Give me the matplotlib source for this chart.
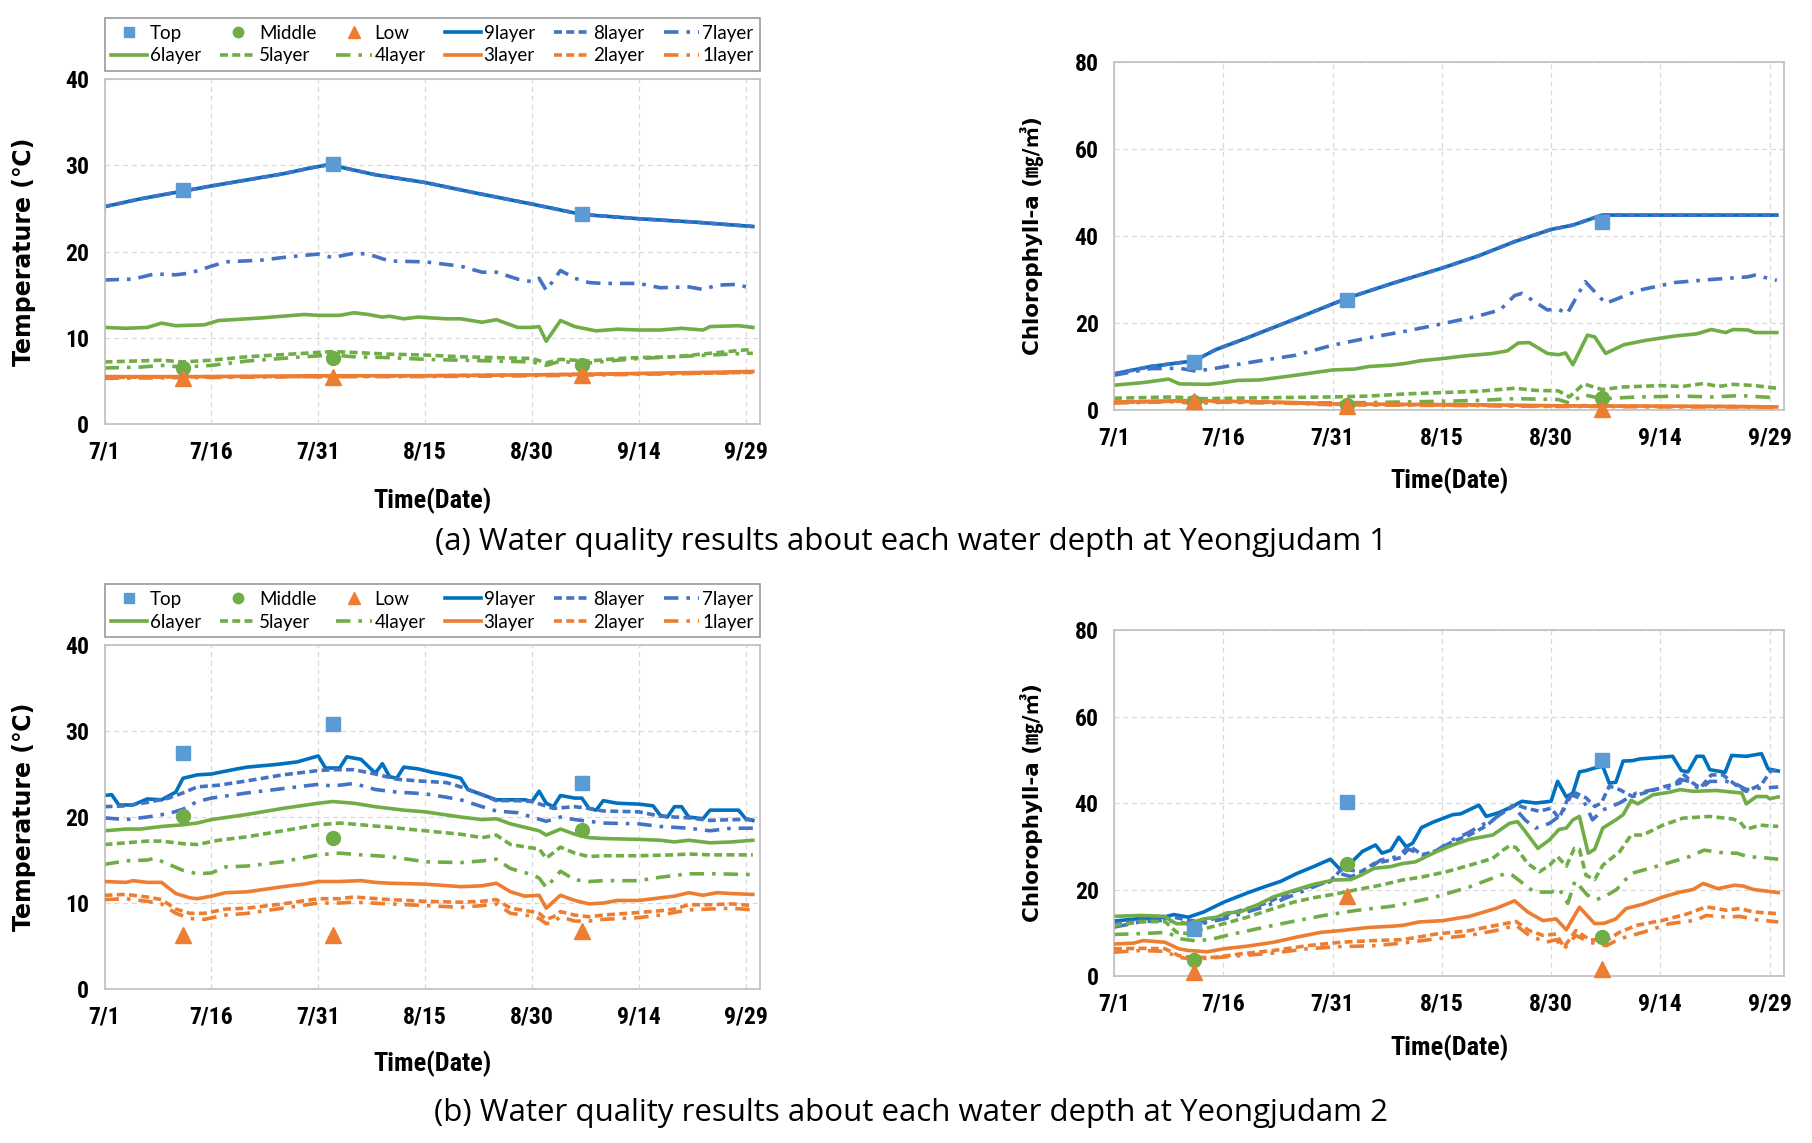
import matplotlib
matplotlib.use("Agg")
import matplotlib.pyplot as plt
from matplotlib import font_manager as fm
from matplotlib.lines import Line2D

# ---------------- data ----------------
TICK_DAYS = [0, 15, 30, 45, 60, 75, 90]
TICK_LABELS = ['7/1', '7/16', '7/31', '8/15', '8/30', '9/14', '9/29']
MARK_DAYS = [11, 32, 67]

# (a) Yeongjudam 1 - temperature
TA_9 = [(0,25.2),(5,26.1),(11,27.0),(15,27.6),(20,28.3),(25,29.0),(29,29.7),(31,30.0),(33,29.8),(38,28.9),(45,28.0),(52,26.8),(60,25.5),(67,24.3),(75,23.8),(83,23.4),(91,22.9)]
TA_8 = [(0,25.2),(5,26.1),(11,27.0),(15,27.6),(20,28.3),(25,29.0),(29,29.7),(31,30.0),(33,29.8),(38,28.9),(45,28.0),(52,26.8),(60,25.5),(67,24.3),(75,23.8),(83,23.4),(91,22.9)]
TA_7 = [(0,16.7),(4,16.8),(7,17.4),(10,17.3),(12,17.5),(15,18.3),(17,18.8),(22,19.0),(26,19.4),(30,19.7),(32,19.3),(35,19.8),(37,19.7),(40,18.9),(45,18.8),(50,18.3),(53,17.6),(55,17.6),(58,16.8),(60,16.5),(61,16.9),(62,15.5),(64,17.8),(66,16.9),(68,16.4),(70,16.3),(75,16.3),(78,15.8),(82,15.9),(84,15.6),(86,16.1),(89,16.2),(91,15.6)]
TA_6 = [(0,11.2),(3,11.1),(6,11.2),(8,11.7),(10,11.4),(14,11.5),(16,12.0),(22,12.3),(28,12.7),(30,12.6),(33,12.6),(35,12.9),(37,12.7),(39,12.4),(40,12.5),(42,12.2),(44,12.4),(48,12.2),(50,12.2),(53,11.8),(55,12.1),(58,11.2),(60,11.2),(61,11.3),(62,9.6),(64,12.0),(66,11.3),(69,10.8),(72,11.0),(75,10.9),(78,10.9),(81,11.1),(84,10.9),(85,11.3),(89,11.4),(91,11.2)]
TA_5 = [(0,7.2),(8,7.4),(11,7.2),(15,7.4),(20,7.8),(26,8.1),(32,8.4),(35,8.3),(40,8.1),(45,8.0),(50,7.8),(55,7.7),(60,7.6),(62,7.1),(64,7.5),(68,7.3),(72,7.6),(75,7.7),(80,7.8),(85,8.2),(90,8.6),(91,8.6)]
TA_4 = [(0,6.5),(5,6.6),(8,6.8),(11,6.6),(15,6.8),(20,7.3),(28,7.8),(32,8.0),(35,7.8),(40,7.7),(45,7.5),(50,7.4),(55,7.3),(60,7.2),(62,6.8),(64,7.3),(67,7.0),(72,7.4),(75,7.6),(80,7.8),(85,8.0),(90,8.2),(91,8.2)]
TA_3 = [(0,5.5),(15,5.5),(30,5.6),(45,5.6),(60,5.7),(70,5.8),(85,6.0),(91,6.1)]
TA_2 = [(0,5.4),(15,5.5),(30,5.5),(45,5.6),(60,5.7),(70,5.8),(85,5.9),(91,6.0)]
TA_1 = [(0,5.3),(15,5.4),(30,5.5),(45,5.5),(60,5.6),(70,5.7),(85,5.9),(91,6.0)]
TA_TOP = [27.1, 30.2, 24.4]
TA_MID = [6.5, 7.7, 6.9]
TA_LOW = [5.3, 5.4, 5.7]

# (a) Yeongjudam 1 - chlorophyll-a
CA_9 = [(0,8.3),(5,10.0),(11,11.3),(14,13.9),(18,16.4),(25,21.0),(32,25.7),(38,29.0),(45,32.6),(50,35.4),(55,38.7),(60,41.5),(63,42.5),(67,44.8),(91,44.8)]
CA_8 = [(0,8.3),(5,10.0),(11,11.3),(14,13.9),(18,16.4),(25,21.0),(32,25.7),(38,29.0),(45,32.6),(50,35.4),(55,38.7),(60,41.5),(63,42.5),(67,44.8),(91,44.8)]
CA_7 = [(0,8.0),(5,9.5),(9,9.6),(11,9.0),(13,9.3),(16,10.2),(20,11.3),(25,12.6),(30,14.9),(35,16.6),(40,18.1),(45,19.8),(50,21.6),(53,23.0),(55,26.3),(56,26.8),(59.5,23.0),(61,23.2),(62.2,22.1),(64.7,29.5),(67.5,24.5),(72,27.5),(77,29.3),(82,30.0),(87,30.6),(88,31.0),(89,30.6),(91,29.8)]
CA_6 = [(0,5.7),(4,6.3),(7.5,7.1),(9,6.0),(13,5.9),(15,6.3),(17,6.8),(20,6.9),(25,8.0),(30,9.2),(33,9.4),(35,10.0),(38,10.3),(40,10.7),(42,11.3),(45,11.8),(48,12.4),(52,13.0),(54,13.6),(55.5,15.4),(57,15.5),(59.5,13.0),(61,12.7),(62,13.1),(63,10.4),(65,17.2),(66,16.8),(67.5,13.0),(70,15.0),(73,16.0),(77,17.0),(80,17.5),(82,18.5),(84,17.8),(85,18.5),(87,18.4),(88,17.8),(91,17.8)]
CA_5 = [(0,2.7),(8,3.0),(12,2.6),(20,2.8),(30,3.0),(35,3.2),(40,3.7),(45,4.0),(50,4.3),(55,5.0),(58,4.5),(61,4.4),(62.5,3.0),(64.5,6.0),(67,4.7),(70,5.3),(75,5.6),(78,5.4),(81,6.1),(83,5.4),(85,5.9),(88,5.6),(91,5.0)]
CA_4 = [(0,1.8),(8,2.0),(11,1.5),(15,1.8),(25,1.6),(35,1.7),(45,2.0),(50,2.2),(55,2.6),(58,2.5),(61,2.4),(62.5,1.6),(64.5,3.5),(67,2.6),(72,3.0),(78,3.2),(82,3.0),(86,3.3),(91,2.8)]
CA_3 = [(0,1.8),(8,2.1),(11,2.2),(15,2.0),(20,1.9),(25,1.7),(30,1.4),(40,1.3),(50,1.2),(60,1.0),(65,0.9),(75,0.9),(85,0.8),(91,0.7)]
CA_2 = [(0,1.7),(8,2.0),(11,2.0),(15,1.9),(20,1.8),(25,1.6),(30,1.3),(40,1.2),(50,1.1),(60,0.9),(65,1.0),(75,0.8),(85,0.8),(91,0.7)]
CA_1 = [(0,1.6),(8,1.9),(11,1.9),(15,1.8),(20,1.7),(25,1.5),(30,1.2),(40,1.1),(50,1.0),(60,0.8),(65,0.8),(75,0.7),(85,0.7),(91,0.6)]
CA_TOP = [11.1, 25.3, 43.1]
CA_MID = [1.9, 1.1, 2.8]
CA_LOW = [2.0, 0.9, 0.3]

# (b) Yeongjudam 2 - temperature
TB_9 = [(0,22.5),(1,22.6),(2,21.4),(4,21.4),(6,22.1),(8,22.0),(10,22.9),(11,24.5),(13,24.9),(15,25.0),(18,25.5),(20,25.8),(24,26.1),(27,26.4),(30,27.1),(31,25.7),(33,25.7),(34,27.0),(36,26.7),(38,25.1),(39,26.2),(40,24.7),(41,24.5),(42,25.8),(44,25.6),(46,25.2),(48,24.9),(50,24.5),(51,23.2),(53,22.6),(55,22.0),(57,22.0),(59,22.0),(60,21.8),(61,23.0),(62,21.6),(63,21.2),(64,22.5),(66,22.2),(67,22.2),(68,21.0),(69,20.8),(70,21.9),(72,21.6),(75,21.5),(77,21.3),(78,20.2),(79,20.0),(80,21.2),(81,21.2),(82,20.0),(84,19.8),(85,20.8),(89,20.8),(90,19.8),(91,19.6)]
TB_8 = [(0,21.2),(3,21.3),(6,21.7),(9,22.2),(11,22.8),(13,23.5),(16,23.7),(20,24.2),(25,24.9),(30,25.4),(32,25.5),(35,25.5),(38,25.0),(41,24.4),(44,24.2),(48,24.0),(50,23.5),(53,22.6),(55,21.9),(58,21.9),(60,21.8),(63,21.0),(66,21.2),(68,21.0),(70,20.7),(75,20.6),(78,20.1),(82,19.9),(85,19.6),(88,19.7),(91,19.7)]
TB_7 = [(0,19.9),(3,19.7),(6,20.0),(9,20.4),(11,20.9),(13,21.8),(15,22.2),(20,22.8),(25,23.3),(30,23.8),(32,23.6),(35,23.9),(38,23.2),(41,22.9),(45,22.7),(48,22.3),(50,22.0),(53,21.2),(55,20.7),(58,20.5),(60,20.0),(62,19.5),(64,20.0),(66,19.7),(68,19.5),(70,19.3),(75,19.2),(78,18.9),(82,18.7),(85,18.4),(88,18.7),(91,18.7)]
TB_6 = [(0,18.4),(3,18.6),(5,18.6),(8,18.9),(11,19.1),(13,19.3),(15,19.7),(20,20.3),(25,21.0),(30,21.6),(32,21.8),(35,21.6),(38,21.2),(40,21.0),(42,20.8),(45,20.6),(50,20.0),(53,19.7),(55,19.8),(57,19.2),(59,18.8),(61,18.4),(62,17.9),(64,18.6),(66,18.0),(68,17.6),(70,17.5),(75,17.4),(78,17.3),(80,17.1),(82,17.3),(85,17.0),(88,17.1),(91,17.3)]
TB_5 = [(0,16.8),(3,17.0),(6,17.2),(8,17.2),(11,16.9),(13,16.8),(16,17.3),(20,17.7),(25,18.4),(30,19.1),(33,19.3),(36,19.1),(40,18.8),(45,18.4),(50,18.0),(53,17.6),(55,17.9),(57,16.8),(60,16.4),(61,16.3),(62,15.2),(64,16.5),(66,15.8),(68,15.4),(70,15.5),(75,15.5),(80,15.6),(82,15.7),(85,15.6),(91,15.6)]
TB_4 = [(0,14.5),(3,14.9),(6,15.0),(7,15.2),(9,14.5),(11,13.8),(13,13.4),(15,13.5),(17,14.2),(20,14.3),(25,14.8),(30,15.6),(33,15.8),(36,15.6),(40,15.4),(45,14.8),(50,14.7),(53,14.9),(55,15.1),(57,14.0),(60,13.3),(61,12.9),(62,11.8),(64,13.7),(66,12.7),(68,12.5),(70,12.6),(75,12.6),(78,13.0),(82,13.4),(86,13.4),(91,13.3)]
TB_3 = [(0,12.5),(3,12.4),(4,12.6),(6,12.4),(8,12.4),(10,11.1),(12,10.6),(13,10.5),(15,10.8),(17,11.2),(20,11.3),(25,11.9),(28,12.2),(30,12.5),(33,12.5),(36,12.6),(38,12.4),(40,12.3),(45,12.2),(50,11.9),(53,12.0),(55,12.3),(57,11.3),(59,10.8),(61,10.9),(62,9.4),(64,10.9),(66,10.3),(68,9.9),(70,10.0),(72,10.3),(75,10.3),(78,10.6),(80,10.8),(82,11.2),(84,10.9),(86,11.2),(88,11.1),(91,11.0)]
TB_2 = [(0,10.9),(3,11.0),(6,10.7),(8,10.4),(10,9.3),(12,8.8),(14,8.8),(17,9.3),(20,9.4),(25,9.9),(30,10.5),(33,10.5),(35,10.7),(40,10.4),(45,10.2),(50,10.1),(53,10.2),(55,10.4),(57,9.4),(60,9.0),(61,8.8),(62,8.1),(63,8.4),(64,9.0),(66,8.6),(68,8.4),(70,8.6),(75,8.9),(78,9.1),(80,9.3),(82,9.8),(85,9.8),(88,9.9),(91,9.7)]
TB_1 = [(0,10.4),(3,10.5),(6,10.2),(8,9.9),(10,8.8),(12,8.2),(14,8.1),(17,8.6),(20,8.8),(25,9.4),(30,10.0),(33,10.0),(35,10.1),(40,9.9),(45,9.7),(50,9.5),(53,9.7),(55,9.9),(57,8.8),(60,8.5),(61,8.2),(62,7.6),(63,7.8),(64,8.4),(66,7.9),(68,7.9),(70,8.1),(75,8.3),(78,8.6),(80,8.9),(82,9.2),(85,9.3),(88,9.4),(91,9.2)]
TB_TOP = [27.5, 30.8, 23.9]
TB_MID = [20.1, 17.6, 18.5]
TB_LOW = [6.3, 6.3, 6.7]

# (b) Yeongjudam 2 - chlorophyll-a
CB_9 = [(0,12.7),(3.6,13.3),(6.8,13.6),(8.2,14.2),(10.2,13.6),(12.3,14.8),(15.1,17.1),(18.3,19.2),(20.6,20.6),(22.9,21.9),(25.1,23.7),(27.4,25.3),(29.7,27.0),(30.9,24.9),(32,25.3),(34.1,28.8),(35.9,30.3),(36.8,28.4),(38,29.1),(39.1,32.1),(40.1,29.9),(41,30.7),(42.2,34.3),(43.7,35.5),(46.5,37.3),(47.6,37.5),(50.1,39.5),(51.1,36.9),(52.9,37.8),(54.7,39.2),(56,40.4),(57.9,40.0),(60,40.4),(60.9,45.0),(62.1,41.4),(63,42.3),(63.9,47.2),(64.8,47.5),(66,48.1),(67.1,48.5),(68,44.6),(68.9,44.8),(69.9,49.7),(71.2,49.8),(72.2,50.2),(74.5,50.5),(76.7,50.8),(77.9,47.5),(78.8,47.2),(80,50.8),(80.9,50.8),(81.8,47.7),(83.9,47.1),(84.8,51.0),(86.8,50.8),(88.9,51.4),(89.8,47.9),(91.2,47.4)]
CB_8 = [(0,12.1),(3.6,12.9),(6.8,13.2),(8.2,13.6),(10.2,12.9),(12.3,12.5),(15.1,14.0),(18.3,15.6),(20.6,16.7),(22.9,18.4),(25.1,19.8),(27.4,21.0),(29.7,21.8),(31.1,24.5),(32,24.6),(33.9,24.1),(35.7,26.0),(38,26.8),(39.4,27.4),(40.7,29.9),(42.3,28.0),(44.2,28.9),(46.5,31.1),(48.8,32.6),(51.1,34.7),(52.9,37.3),(55.2,39.6),(56.6,38.8),(58.4,38.1),(60,38.8),(61.1,36.5),(62.3,40.9),(63.4,42.3),(64.8,41.2),(66,39.2),(66.9,40.0),(68,43.9),(69.4,43.1),(71.2,41.5),(73.5,42.7),(75.8,43.9),(77.7,44.6),(78.3,46.5),(79.5,44.6),(80.5,43.5),(82,46.5),(83.6,46.5),(85.5,44.0),(86.8,42.7),(88.9,44.3),(90.2,47.5),(91.2,47.4)]
CB_7 = [(0,11.3),(3.6,12.5),(6.8,12.9),(10.2,12.1),(12.3,12.2),(15.1,13.2),(20.6,16.0),(27.4,20.6),(29.7,22.2),(31,23.7),(32.5,23.0),(34,23.7),(36.6,26.8),(38.9,27.6),(40.2,29.5),(42.3,28.0),(44.2,28.9),(46.5,31.5),(48.5,33.0),(50.6,35.0),(52,36.1),(54.7,39.4),(56.5,36.0),(57.9,34.2),(59.8,35.3),(61.4,37.3),(62.8,41.9),(64.4,40.8),(65.7,36.1),(67.1,38.4),(69.4,40.0),(71.7,42.3),(74.5,43.2),(76.3,43.5),(77.7,45.5),(79,45.0),(80.4,43.1),(81.8,45.0),(84.1,45.0),(85.5,44.3),(86.8,43.1),(89.1,43.5),(91.2,43.7)]
CB_6 = [(0,13.8),(3.6,14.0),(7,13.8),(7.7,12.9),(8.6,12.1),(10.2,12.1),(12.3,13.2),(14.1,13.6),(15.5,14.6),(17.3,14.8),(19.6,16.4),(21.9,18.3),(24.7,19.8),(27.4,21.2),(30.2,22.2),(32.5,22.3),(33.9,23.3),(35.7,24.9),(38,25.3),(39.6,26.0),(41.4,26.4),(44.2,28.7),(46.5,30.3),(48.8,31.6),(52,32.6),(54.3,35.3),(55.4,35.7),(56.3,33.8),(58.2,29.5),(59.8,31.5),(61.1,33.9),(62.1,34.2),(63,36.1),(63.9,36.9),(65.1,28.4),(66,29.3),(67.1,34.2),(68.9,36.1),(69.9,37.3),(71,40.6),(71.9,39.8),(74,41.9),(76.3,42.5),(77.7,43.1),(79.5,42.7),(82.7,42.9),(85,42.5),(86.2,42.3),(86.8,39.8),(88.2,41.5),(89.6,41.5),(90,41.0),(91.2,41.4)]
CB_5 = [(0,11.7),(3.6,12.5),(7,12.6),(8.6,10.1),(10.2,9.8),(12.3,10.9),(15.1,12.1),(18.3,13.6),(21.9,15.6),(24.7,17.1),(27.4,18.1),(30.2,18.9),(33.4,20.0),(36.6,21.0),(39.6,22.2),(42.3,22.9),(45.6,24.1),(48.8,25.6),(52,27.2),(53.4,29.1),(54.3,30.1),(55.2,29.7),(56.8,26.0),(58.4,24.1),(59.8,25.6),(60.9,27.6),(62.1,25.4),(63.2,29.5),(63.9,29.3),(64.8,23.3),(66,22.3),(67.1,25.6),(69.4,28.7),(71,32.6),(72.6,32.6),(75.4,34.9),(78.1,36.5),(81.8,36.9),(85,36.3),(85.9,35.7),(86.8,33.9),(88.7,34.9),(90,34.7),(91.2,34.6)]
CB_4 = [(0,9.6),(3.6,9.8),(7.3,10.1),(9.1,8.6),(10.9,8.2),(13.2,8.4),(15.5,9.4),(19.6,10.9),(24.2,12.5),(28.8,14.0),(33.4,15.2),(38,16.1),(39.6,16.6),(44.2,18.3),(48.8,20.6),(52.4,22.9),(53.8,23.7),(54.7,23.3),(57.7,19.4),(60,19.4),(61.1,20.2),(62.3,16.8),(63.3,22.0),(65,18.7),(66.3,17.7),(67.5,18.5),(69,20.0),(71,23.7),(75,25.6),(79,27.6),(81,29.1),(84,28.4),(85.5,28.4),(87,27.6),(89,27.4),(91.2,27.0)]
CB_3 = [(0,7.4),(2.7,7.6),(4,8.2),(7,7.8),(8.9,6.3),(10.2,5.9),(12.8,5.6),(15.1,6.3),(18.3,6.9),(21.9,7.8),(25.1,9.0),(28.4,10.1),(31.1,10.5),(34.8,11.2),(38,11.5),(39.6,11.7),(41.9,12.5),(45.1,12.8),(48.8,13.8),(52.4,15.6),(55,17.4),(56.8,14.8),(58.9,12.8),(60.7,13.2),(62.1,10.7),(63.9,15.9),(66,12.1),(67.3,12.2),(68.9,13.2),(70.3,15.6),(72.6,16.6),(75.4,18.3),(77.7,19.4),(79.5,20.0),(80.9,21.4),(82.9,20.2),(85.2,21.0),(86.4,20.8),(87.8,20.0),(91.2,19.3)]
CB_2 = [(0,6.3),(3.6,6.4),(7,6.3),(8.9,4.7),(10.9,4.3),(13.7,4.3),(17.3,5.1),(21.9,5.9),(26.5,7.0),(31.1,7.8),(35.7,8.2),(39.6,8.4),(44.2,9.7),(48.8,10.5),(52.4,11.7),(55.2,12.6),(57,10.5),(58.9,9.4),(60.7,9.7),(61.8,6.7),(63.4,10.5),(65.3,8.4),(67.6,8.2),(69.4,10.1),(71.7,11.7),(75.4,12.9),(78.6,14.3),(81.3,16.0),(84.1,15.2),(85.9,15.6),(87.8,14.8),(91.2,14.4)]
CB_1 = [(0,5.5),(3.6,5.9),(7,5.7),(8.9,4.3),(10.9,3.9),(13.7,4.2),(17.3,4.7),(21.9,5.3),(26.5,6.3),(31.1,6.8),(35.7,7.0),(39.6,7.6),(44.2,8.6),(48.8,9.4),(52.4,10.5),(55.2,11.7),(57,9.4),(59.3,7.8),(60.7,8.4),(61.8,6.3),(63.4,9.4),(65.3,7.8),(67.6,7.0),(69.4,8.6),(72.6,10.1),(76.3,12.1),(79.9,12.9),(81.3,14.0),(84.1,13.6),(85.9,13.8),(88.2,13.0),(91.2,12.5)]
CB_TOP = [10.9, 40.2, 50.0]
CB_MID = [3.6, 26.0, 9.0]
CB_LOW = [0.9, 18.6, 1.7]

LAYER_NAMES = ['9layer', '8layer', '7layer', '6layer', '5layer', '4layer', '3layer', '2layer', '1layer']
CAPTION_A = '(a) Water quality results about each water depth at Yeongjudam 1'
CAPTION_B = '(b) Water quality results about each water depth at Yeongjudam 2'

# ---------------- style ----------------
available = {f.name for f in fm.fontManager.ttflist}
def pick(*names):
    for n in names:
        if n in available:
            return n
    return 'DejaVu Sans'

NARROW = pick('Liberation Sans Narrow', 'Roboto Condensed', 'Liberation Sans')
LEGEND_FONT = pick('Lato', 'Open Sans', 'Liberation Sans')
CAP_FONT = pick('Open Sans', 'Noto Sans', 'Liberation Sans')

BLUE_D = '#0070C0'
BLUE = '#4472C4'
BLUE_M = '#5B9BD5'
GREEN = '#70AD47'
ORANGE = '#ED7D31'
DASH = (0, (2.2, 1.2))
DASHDOT = (0, (4.0, 2.2, 1.0, 2.2))
LAYER_STYLES = [(BLUE_D, '-'), (BLUE, DASH), (BLUE, DASHDOT),
                (GREEN, '-'), (GREEN, DASH), (GREEN, DASHDOT),
                (ORANGE, '-'), (ORANGE, DASH), (ORANGE, DASHDOT)]
MARK_STYLES = {'Top': ('s', BLUE_M, 10), 'Middle': ('o', GREEN, 10), 'Low': ('^', ORANGE, 11)}
LW = 2.6

fig = plt.figure(figsize=(18.12, 11.43), dpi=100)

def panel(rect, layers, top, mid, low, ymax, ystep, ylabel, ylab_family, ylab_size, xlab_y, legend):
    ax = fig.add_axes(rect)
    ax.set_axisbelow(True)
    for i, (series, (col, ls)) in enumerate(zip(layers, LAYER_STYLES)):
        d = [p[0] for p in series]
        v = [p[1] for p in series]
        ax.plot(d, v, color=col, linestyle=ls, lw=LW, zorder=2 + i * 0.1)
    for name, vals in (('Top', top), ('Middle', mid), ('Low', low)):
        m, c, s = MARK_STYLES[name]
        ax.plot(MARK_DAYS, vals, m, color=c, ms=s, ls='none', zorder=5, clip_on=False)
    ax.set_xlim(0, 92)
    ax.set_ylim(0, ymax)
    ax.set_yticks(list(range(0, ymax + 1, ystep)))
    ax.set_xticks(TICK_DAYS)
    ax.set_xticklabels(TICK_LABELS)
    ax.grid(True, color='#D9D9D9', linestyle=(0, (4, 3)), lw=0.9)
    for s in ax.spines.values():
        s.set_color('#BFBFBF')
        s.set_linewidth(1.2)
    ax.tick_params(length=0, pad=11)
    ax.tick_params(axis='x', pad=12)
    for lab in ax.get_xticklabels() + ax.get_yticklabels():
        lab.set_fontfamily(NARROW)
        lab.set_fontweight('bold')
        lab.set_fontsize(17)
    ax.set_ylabel(ylabel, family=ylab_family, fontweight='bold', fontsize=ylab_size)
    ax.yaxis.set_label_coords(-0.104, 0.5)
    ax.set_xlabel('Time(Date)', family=NARROW, fontweight='bold', fontsize=19)
    ax.xaxis.set_label_coords(0.5, xlab_y)
    if legend:
        order = ['Top', '6layer', 'Middle', '5layer', 'Low', '4layer',
                 '9layer', '3layer', '8layer', '2layer', '7layer', '1layer']
        handles = []
        for name in order:
            if name in MARK_STYLES:
                m, c, s = MARK_STYLES[name]
                handles.append(Line2D([], [], color=c, linestyle='none', marker=m,
                                      ms=7.5 if m != '^' else 8.5))
            else:
                c, ls = LAYER_STYLES[LAYER_NAMES.index(name)]
                handles.append(Line2D([], [], color=c, linestyle=ls, lw=LW))
        leg = ax.legend(handles, order, ncol=6, loc='lower left',
                        bbox_to_anchor=(0, 1.023, 1, 0.142), mode='expand',
                        borderaxespad=0, frameon=True, fancybox=False,
                        handlelength=1.9, handletextpad=0.15, columnspacing=0.5,
                        labelspacing=0.3, borderpad=0.35,
                        prop={'family': LEGEND_FONT, 'size': 13.5})
        leg.get_frame().set_edgecolor('#808080')
        leg.get_frame().set_linewidth(1.2)
    return ax

TEMP_LABEL = 'Temperature (\u2103)'
CHL_LABEL = 'Chlorophyll-a (\u338e/\u33a5)'
TEMP_FAM = ['DejaVu Sans', 'Noto Sans CJK KR']
CHL_FAM = ['DejaVu Sans', 'Noto Sans CJK KR']

panel([0.0577, 0.6290, 0.3617, 0.3019], [TA_9, TA_8, TA_7, TA_6, TA_5, TA_4, TA_3, TA_2, TA_1],
      TA_TOP, TA_MID, TA_LOW, 40, 10, TEMP_LABEL, TEMP_FAM, 17, -0.183, True)
panel([0.6148, 0.6413, 0.3698, 0.3045], [CA_9, CA_8, CA_7, CA_6, CA_5, CA_4, CA_3, CA_2, CA_1],
      CA_TOP, CA_MID, CA_LOW, 80, 20, CHL_LABEL, CHL_FAM, 15.5, -0.167, False)
panel([0.0577, 0.1347, 0.3617, 0.3010], [TB_9, TB_8, TB_7, TB_6, TB_5, TB_4, TB_3, TB_2, TB_1],
      TB_TOP, TB_MID, TB_LOW, 40, 10, TEMP_LABEL, TEMP_FAM, 17, -0.180, True)
panel([0.6148, 0.1461, 0.3698, 0.3027], [CB_9, CB_8, CB_7, CB_6, CB_5, CB_4, CB_3, CB_2, CB_1],
      CB_TOP, CB_MID, CB_LOW, 80, 20, CHL_LABEL, CHL_FAM, 15.5, -0.171, False)

fig.text(0.503, 1 - 542 / 1143, CAPTION_A, ha='center', va='center', family=CAP_FONT, fontsize=22.5)
fig.text(0.503, 1 - 1113 / 1143, CAPTION_B, ha='center', va='center', family=CAP_FONT, fontsize=22.5)

fig.savefig('out.png', dpi=100)
